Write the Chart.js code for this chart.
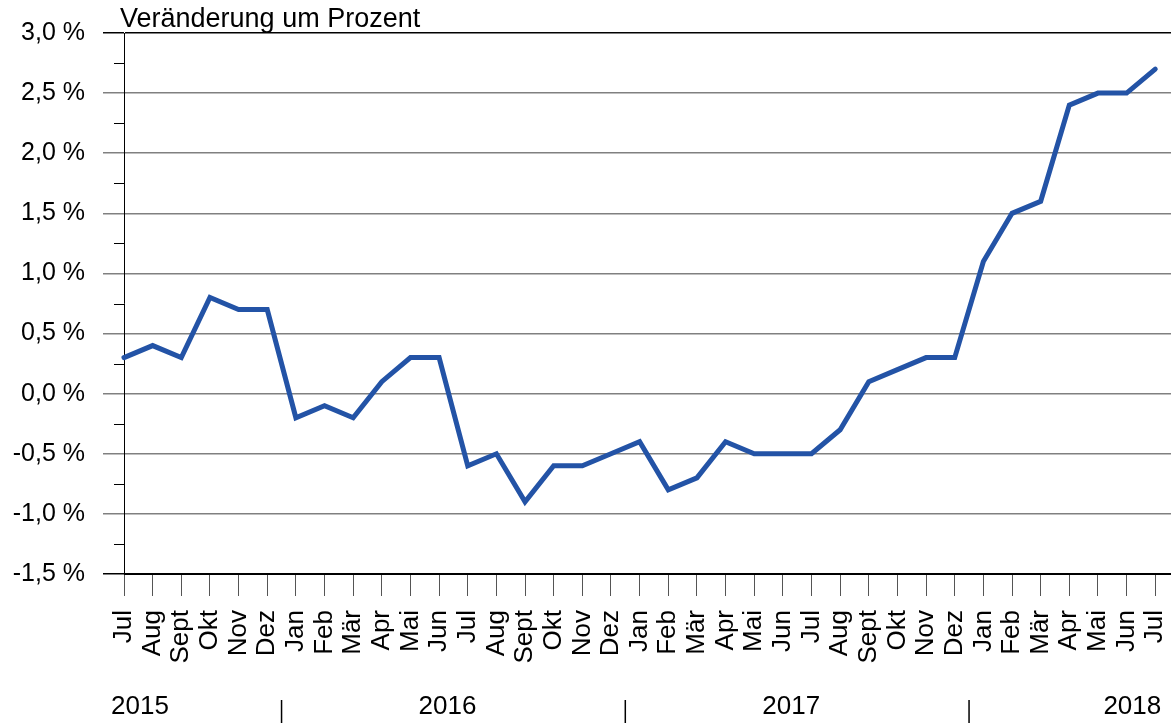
<!DOCTYPE html>
<html><head><meta charset="utf-8">
<script src="https://cdn.jsdelivr.net/npm/chart.js@4/dist/chart.umd.min.js"></script>
<style>html,body{margin:0;padding:0;background:#fff;}#wrap{width:1171px;height:723px;position:relative;}</style>
</head><body><div id="wrap"><canvas id="c" width="1171" height="723"></canvas></div>
<script>
const months = ['Jul','Aug','Sept','Okt','Nov','Dez','Jan','Feb','Mär','Apr','Mai','Jun','Jul','Aug','Sept','Okt','Nov','Dez','Jan','Feb','Mär','Apr','Mai','Jun','Jul','Aug','Sept','Okt','Nov','Dez','Jan','Feb','Mär','Apr','Mai','Jun','Jul'];
const values = [0.3,0.4,0.3,0.8,0.7,0.7,-0.2,-0.1,-0.2,0.1,0.3,0.3,-0.6,-0.5,-0.9,-0.6,-0.6,-0.5,-0.4,-0.8,-0.7,-0.4,-0.5,-0.5,-0.5,-0.3,0.1,0.2,0.3,0.3,1.1,1.5,1.6,2.4,2.5,2.5,2.7];
const years = ['2015','2016','2017','2018'];
const yearStart = [0,6,18,30];   // index of first month of each year
const yTicksMin = -1.5, yTicksMax = 3.0, yMajorStep = 0.5, yMinorStep = 0.25;
const yAxisTitle = 'Veränderung um Prozent';

const FONT = '"Liberation Sans", Arial, sans-serif';
const isMajor = v => Math.abs(v / yMajorStep - Math.round(v / yMajorStep)) < 1e-6;

const extras = {
  id: 'extras',
  afterDraw(chart) {
    const ctx = chart.ctx, xs = chart.scales.x, ys = chart.scales.y;
    ctx.save();
    // minor y ticks
    ctx.strokeStyle = '#000'; ctx.lineWidth = 1;
    for (let v = yTicksMin; v <= yTicksMax + 1e-9; v += yMinorStep) {
      if (isMajor(v)) continue;
      const y = Math.round(ys.getPixelForValue(v)) + 0.5;
      ctx.beginPath(); ctx.moveTo(xs.left - 10, y); ctx.lineTo(xs.left, y); ctx.stroke();
    }
    // title
    ctx.fillStyle = '#000'; ctx.font = '27px ' + FONT;
    ctx.textAlign = 'left'; ctx.textBaseline = 'alphabetic';
    ctx.fillText(yAxisTitle, xs.left - 4, 27);
    // year separators and labels
    ctx.font = '26px ' + FONT; ctx.textBaseline = 'middle';
    ctx.strokeStyle = '#000'; ctx.lineWidth = 1.5;
    const sepX = [];
    for (let i = 1; i < yearStart.length; i++) {
      const x = (xs.getPixelForValue(yearStart[i] - 1) + xs.getPixelForValue(yearStart[i])) / 2;
      sepX.push(x);
      ctx.beginPath(); ctx.moveTo(x, 700); ctx.lineTo(x, 723); ctx.stroke();
    }
    const yy = 707;
    ctx.textAlign = 'left';
    ctx.fillText(years[0], xs.getPixelForValue(0) - 13, yy);
    ctx.textAlign = 'center';
    for (let i = 1; i < years.length - 1; i++) {
      ctx.fillText(years[i], (sepX[i - 1] + sepX[i]) / 2 - 6, yy);
    }
    ctx.textAlign = 'right';
    ctx.fillText(years[years.length - 1], xs.getPixelForValue(months.length - 1) + 6, yy);
    ctx.restore();
  }
};

new Chart(document.getElementById('c'), {
  type: 'line',
  data: {
    datasets: [{
      data: values.map((v, i) => ({ x: i, y: v })),
      borderColor: '#2353a6',
      borderWidth: 5,
      pointRadius: 0,
      tension: 0,
      fill: false,
      clip: false,
      borderJoinStyle: 'miter',
      borderCapStyle: 'round'
    }]
  },
  options: {
    responsive: false,
    animation: false,
    events: [],
    layout: { padding: { top: 33, right: 0, left: 0, bottom: 0 } },
    plugins: { legend: { display: false }, tooltip: { enabled: false }, title: { display: false } },
    scales: {
      x: {
        type: 'linear',
        min: 0,
        max: 36.55,
        afterBuildTicks: s => { s.ticks = months.map((m, i) => ({ value: i })); },
        afterFit: s => { s.height = 149; s.paddingLeft = 0; s.paddingRight = 0; },
        ticks: {
          callback: v => months[v] ?? '',
          autoSkip: false,
          minRotation: 90, maxRotation: 90,
          color: '#000',
          font: { family: FONT, size: 26 },
          padding: 14
        },
        grid: { drawOnChartArea: false, drawTicks: true, tickLength: 22, tickColor: '#555', tickWidth: 1 },
        border: { display: true, color: '#000', width: 1 }
      },
      y: {
        min: yTicksMin,
        max: yTicksMax,
        afterBuildTicks: s => {
          const t = [];
          for (let v = yTicksMin; v <= yTicksMax + 1e-9; v += yMajorStep) t.push({ value: Math.round(v * 100) / 100 });
          s.ticks = t;
        },
        afterFit: s => { s.width = 124; s.paddingTop = 0; s.paddingBottom = 0; },
        ticks: {
          callback: v => v.toFixed(1).replace('.', ',') + ' %',
          color: '#000',
          font: { family: FONT, size: 25 },
          padding: 18
        },
        grid: {
          color: c => (c.tick && (c.tick.value === yTicksMax || c.tick.value === yTicksMin)) ? '#000' : '#808080',
          tickColor: c => (c.tick && (c.tick.value === yTicksMax || c.tick.value === yTicksMin)) ? '#000' : '#808080',
          lineWidth: 1.5,
          tickLength: 21,
          drawTicks: true
        },
        border: { display: true, color: '#000', width: 1 }
      }
    }
  },
  plugins: [extras]
});
</script></body></html>
